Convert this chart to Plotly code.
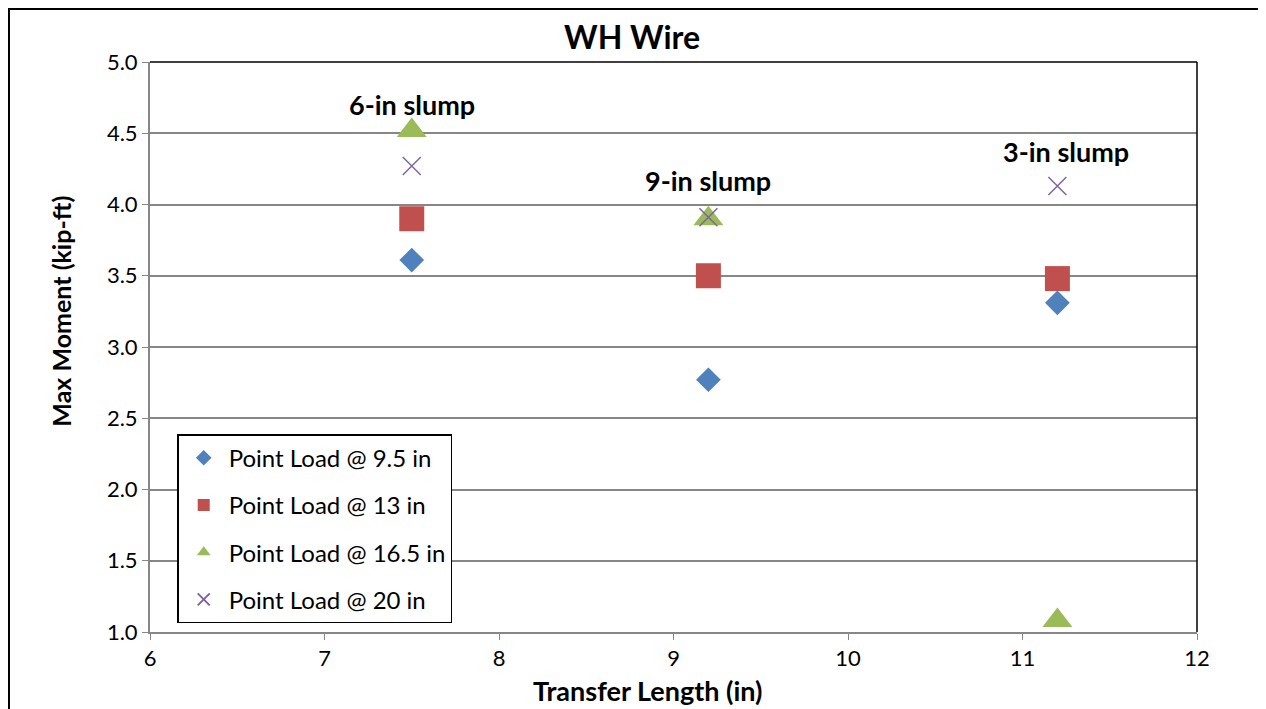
import plotly.graph_objects as go

transfer_length = [7.5, 9.2, 11.2]
load_9_5 = [3.61, 2.77, 3.31]
load_13 = [3.90, 3.50, 3.48]
load_16_5 = [4.52, 3.90, 1.08]
load_20 = [4.27, 3.91, 4.13]

slump_labels = ["6-in slump", "9-in slump", "3-in slump"]
slump_x = [7.5, 9.2, 11.25]
slump_y = [4.70, 4.17, 4.37]

x_title = "Transfer Length (in)"
y_title = "Max Moment (kip-ft)"

series = [
    ("Point Load @ 9.5 in", load_9_5, dict(symbol="diamond", size=19, color="#4F81BD")),
    ("Point Load @ 13 in", load_13, dict(symbol="square", size=25, color="#C0504D")),
    ("Point Load @ 16.5 in", load_16_5, dict(symbol="triangle-up", size=26, color="#9BBB59")),
    ("Point Load @ 20 in", load_20, dict(symbol="x-thin-open", size=18, color="#8064A2",
                                          line=dict(color="#8064A2", width=1.5))),
]

fig = go.Figure()
for name, vals, mk in series:
    fig.add_trace(go.Scatter(x=transfer_length, y=vals, mode="markers", name=name,
                             legendgroup=name, marker=mk))

font_fam = "Lato, Open Sans, sans-serif"
for t, x, y in zip(slump_labels, slump_x, slump_y):
    fig.add_annotation(x=x, y=y, text=f"<b>{t}</b>", showarrow=False,
                       font=dict(family=font_fam, size=27, color="black"))

# axis titles
fig.add_annotation(xref="paper", yref="paper", x=0.4756, y=-0.103, xanchor="center", yanchor="middle",
                   text=f"<b>{x_title}</b>", showarrow=False,
                   font=dict(family=font_fam, size=27, color="black"))
fig.add_annotation(xref="paper", yref="paper", x=-0.0850, y=0.562, xanchor="center", yanchor="middle",
                   text=f"<b>{y_title}</b>", showarrow=False, textangle=-90,
                   font=dict(family=font_fam, size=25, color="black"))

fig.update_layout(
    width=1266, height=709,
    paper_bgcolor="white", plot_bgcolor="white",
    margin=dict(l=142, r=77, t=54, b=85),
    title=dict(text="<b>WH Wire</b>", x=0.493, xanchor="center", y=0.958, yanchor="middle",
               font=dict(family=font_fam, size=32, color="black")),
    font=dict(family=font_fam, size=22, color="black"),
    showlegend=True,
    legend=dict(x=0.026, y=0.347, xanchor="left", yanchor="top",
                bgcolor="white", bordercolor="black", borderwidth=1.5,
                font=dict(family=font_fam, size=24, color="black"),
                itemsizing="constant", itemwidth=40, tracegroupgap=13),
    xaxis=dict(range=[6, 12], dtick=1, showgrid=False, zeroline=False,
               showline=True, linecolor="#878787", linewidth=2,
               ticks="outside", tickcolor="#878787", ticklen=6,
               tickfont=dict(size=22)),
    yaxis=dict(range=[1.0, 5.0], dtick=0.5, tickformat=".1f",
               showgrid=True, gridcolor="#878787", gridwidth=1.5, zeroline=False,
               showline=True, linecolor="#878787", linewidth=2,
               ticks="outside", tickcolor="#878787", ticklen=6,
               tickfont=dict(size=22)),
)

# plot-area top/right border and outer chart border
fig.add_shape(type="line", xref="paper", yref="paper", x0=0, x1=1, y0=1, y1=1,
              line=dict(color="black", width=1.5))
fig.add_shape(type="line", xref="paper", yref="paper", x0=1, x1=1, y0=0, y1=1,
              line=dict(color="black", width=1.5))
fig.add_shape(type="rect", xref="paper", yref="paper", x0=-0.1347, x1=1.062, y0=-0.2, y1=1.093,
              line=dict(color="black", width=2), fillcolor="rgba(0,0,0,0)")

fig.write_html("out.html")
